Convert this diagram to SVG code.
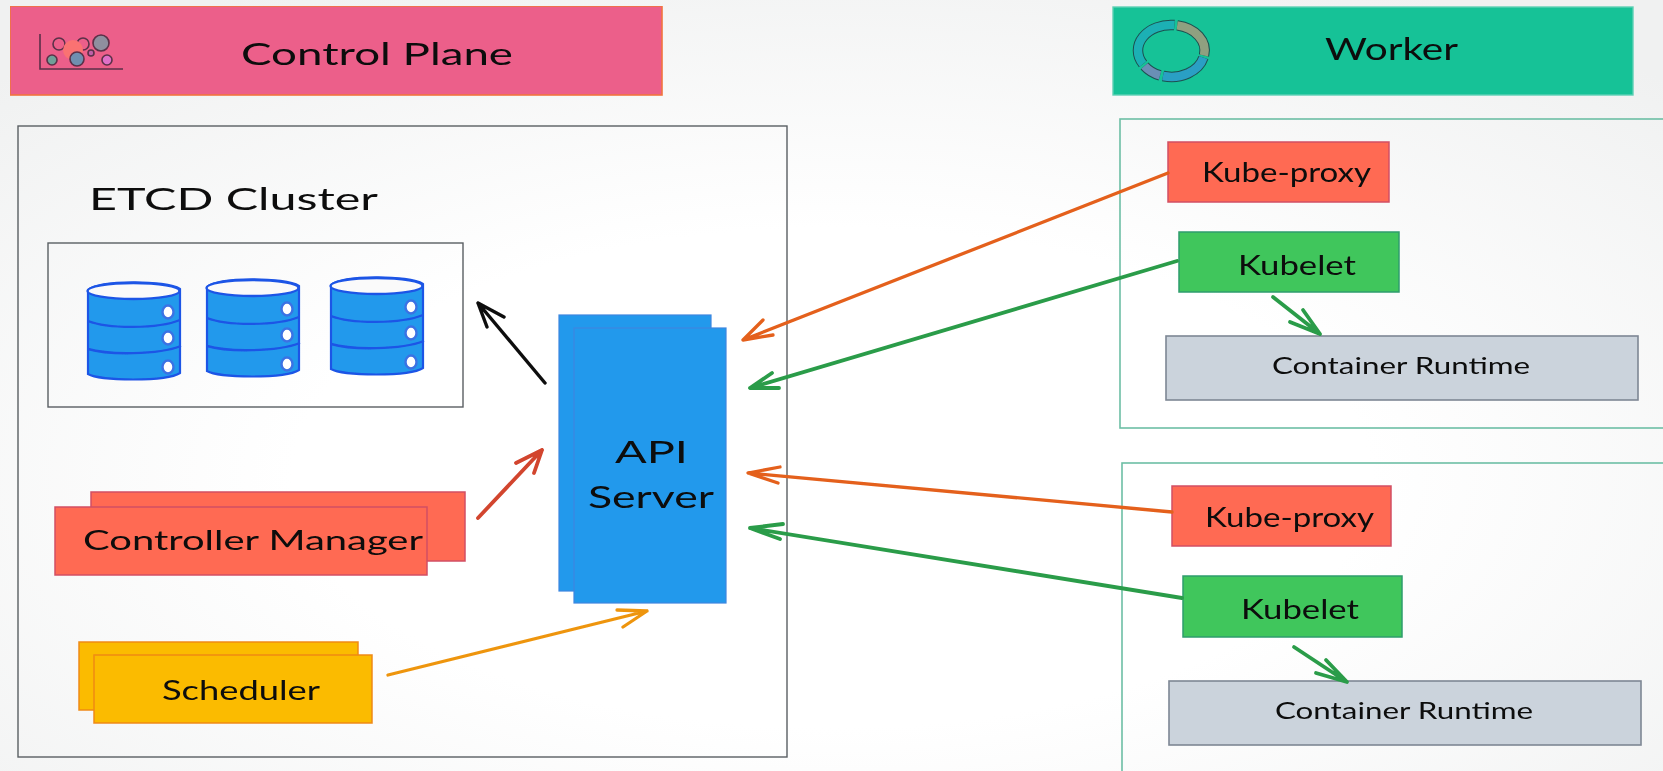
<svg xmlns="http://www.w3.org/2000/svg" xmlns:xlink="http://www.w3.org/1999/xlink" width="1663" height="771" viewBox="0 0 1663 771">
<style>
text{font-family:"Lato","Open Sans","Liberation Sans",sans-serif;fill:#0b0b0b;font-size:26px}
.lg{font-size:31px}
.md{font-size:27px}
.sm{font-size:24px}
.frame{fill:none;stroke:#5a5f63;stroke-width:1.4}
.wframe{fill:none;stroke:#6dbfa5;stroke-width:1.6}
.red{fill:#ff6a52;stroke:#d24f63;stroke-width:1.5}
.grn{fill:#40c65c;stroke:#2f9d6c;stroke-width:1.5}
.gry{fill:#cbd3dc;stroke:#7e8794;stroke-width:1.6}
.blu{fill:#2299ec;stroke:#3d86e0;stroke-width:1.2}
.yel{fill:#fbbb02;stroke:#ef8a17;stroke-width:1.5}
.a{fill:none;stroke-width:3.3;stroke-linecap:round;stroke-linejoin:round}
.ao{stroke:#e4601b}
.ag{stroke:#2b9c48;stroke-width:3.8}
.ak{stroke:#0b0b0b;stroke-width:3.4}
.ar{stroke:#d2452f;stroke-width:3.8}
.ay{stroke:#ee950f}
.cb{fill:#2299ec;stroke:#1f55e6;stroke-width:2.2}
.cl{fill:none;stroke:#1f55e6;stroke-width:2.4}
.ct{fill:#fafafa;stroke:#1f55e6;stroke-width:2.4}
.cd{fill:#fff;stroke:#3a72e4;stroke-width:2.4}
.bub{stroke:#5b3048;stroke-width:1.6}
</style>
<defs>
<radialGradient id="bg" cx="50%" cy="62%" r="72%">
<stop offset="0.45" stop-color="#ffffff"/>
<stop offset="1" stop-color="#f0f1f1"/>
</radialGradient>
<filter id="soft" x="0" y="0" width="100%" height="100%"><feGaussianBlur stdDeviation="0.5"/></filter>
<g id="cyl">
<path class="cb" d="M0 7V91C12 98 78 99 92 90V6C78 -3 12 -3 0 7Z"/>
<ellipse class="ct" cx="45.500" cy="8" rx="46" ry="8"/>
<path class="cl" d="M0 38C20 46 70 46 92 37M0 66C20 72 70 72 93 63"/>
<ellipse class="cd" cx="80" cy="29" rx="5.500" ry="6.500"/>
<ellipse class="cd" cx="80" cy="55" rx="5.500" ry="6.500"/>
<ellipse class="cd" cx="80" cy="84" rx="5.500" ry="6.500"/>
</g>
</defs>
<rect width="1663" height="771" fill="url(#bg)"/>
<g filter="url(#soft)">
<g id="control-plane-header">
<rect x="10" y="6" width="652" height="89" fill="#ec5f8a" stroke="#f2743f" stroke-width="1.6"/>
<path d="M40 34V69H123" fill="none" stroke="#5b3048" stroke-width="1.6"/>
<circle class="bub" cx="59" cy="44" r="6" fill="none"/>
<circle class="bub" cx="83" cy="44" r="6" fill="none"/>
<circle cx="73" cy="50" r="10" fill="#fa7272"/>
<circle class="bub" cx="101" cy="43" r="8" fill="#8f8f9f"/>
<circle class="bub" cx="77" cy="59" r="7" fill="#6f8fb0"/>
<circle class="bub" cx="91" cy="53" r="3" fill="#c060a8"/>
<circle class="bub" cx="52" cy="60" r="5" fill="#6f9f98"/>
<circle class="bub" cx="107" cy="60" r="5" fill="#e070c8"/>
<text class="lg" x="241" y="65" textLength="272" lengthAdjust="spacingAndGlyphs">Control Plane</text>
</g>
<g id="worker-header">
<rect x="1113" y="7" width="520" height="88" fill="#12c297" stroke="#5fd0b5" stroke-width="1.4"/>
<g fill="none" stroke-linecap="butt">
<path d="M1143 64A33 25.500 0 0 1 1174.400 25.100" stroke="#1f4f4f" stroke-width="10.500"/>
<path d="M1177.200 25.400A33 25.500 0 0 1 1204 55.500" stroke="#1f4f4f" stroke-width="10.500"/>
<path d="M1203.400 57.700A33 25.500 0 0 1 1163 76" stroke="#1f4f4f" stroke-width="10.500"/>
<path d="M1160 75.400A33 25.500 0 0 1 1144.500 66" stroke="#1f4f4f" stroke-width="10.500"/>
<path d="M1143 64A33 25.500 0 0 1 1174.400 25.100" stroke="#1fb0b4" stroke-width="8.500"/>
<path d="M1177.200 25.400A33 25.500 0 0 1 1204 55.500" stroke="#8fa080" stroke-width="8.500"/>
<path d="M1203.400 57.700A33 25.500 0 0 1 1163 76" stroke="#2a9fc4" stroke-width="8.500"/>
<path d="M1160 75.400A33 25.500 0 0 1 1144.500 66" stroke="#6a8fb5" stroke-width="8.500"/>
</g>
<text class="lg" x="1325" y="60" textLength="133" lengthAdjust="spacingAndGlyphs">Worker</text>
</g>
<g id="control-plane"><rect class="frame" x="18" y="126" width="769" height="631"/></g>
<g id="etcd-cluster">
<text class="lg" x="89" y="210" textLength="289" lengthAdjust="spacingAndGlyphs">ETCD Cluster</text>
<rect class="frame" x="48" y="243" width="415" height="164"/>
<use xlink:href="#cyl" href="#cyl" x="88" y="283"/>
<use xlink:href="#cyl" href="#cyl" x="207" y="280"/>
<use xlink:href="#cyl" href="#cyl" x="331" y="278"/>
</g>
<g id="api-server">
<rect class="blu" x="559" y="315" width="152" height="276"/>
<rect class="blu" x="574" y="328" width="152" height="275"/>
<text class="lg" x="615" y="463" textLength="73" lengthAdjust="spacingAndGlyphs">API</text>
<text class="lg" x="588" y="508" textLength="126" lengthAdjust="spacingAndGlyphs">Server</text>
</g>
<g id="controller-manager">
<rect class="red" x="91" y="492" width="374" height="69"/>
<rect class="red" x="55" y="507" width="372" height="68"/>
<text class="md" x="83" y="550" textLength="340" lengthAdjust="spacingAndGlyphs">Controller Manager</text>
</g>
<g id="scheduler">
<rect class="yel" x="79" y="642" width="279" height="68"/>
<rect class="yel" x="94" y="655" width="278" height="68"/>
<text class="md" x="162" y="700" textLength="158" lengthAdjust="spacingAndGlyphs">Scheduler</text>
</g>
<g id="worker-1">
<rect class="wframe" x="1120" y="119" width="560" height="309"/>
</g>
<g id="kube-proxy-1"><rect class="red" x="1168" y="142" width="221" height="60"/>
<text class="md" x="1202" y="182" textLength="169" lengthAdjust="spacingAndGlyphs">Kube-proxy</text></g>
<g id="kubelet-1"><rect class="grn" x="1179" y="232" width="220" height="60"/>
<text class="md" x="1238" y="275" textLength="118" lengthAdjust="spacingAndGlyphs">Kubelet</text></g>
<g id="container-runtime-1"><rect class="gry" x="1166" y="336" width="472" height="64"/>
<text class="sm" x="1272" y="374" textLength="258" lengthAdjust="spacingAndGlyphs">Container Runtime</text></g>
<g id="worker-2">
<rect class="wframe" x="1122" y="463" width="560" height="340"/>
</g>
<g id="kube-proxy-2"><rect class="red" x="1172" y="486" width="219" height="60"/>
<text class="md" x="1205" y="527" textLength="169" lengthAdjust="spacingAndGlyphs">Kube-proxy</text></g>
<g id="kubelet-2"><rect class="grn" x="1183" y="576" width="219" height="61"/>
<text class="md" x="1241" y="619" textLength="118" lengthAdjust="spacingAndGlyphs">Kubelet</text></g>
<g id="container-runtime-2"><rect class="gry" x="1169" y="681" width="472" height="64"/>
<text class="sm" x="1275" y="719" textLength="258" lengthAdjust="spacingAndGlyphs">Container Runtime</text></g>
<g id="connectors">
<path class="a ak" d="M545 383L478 303M504 317L478 303L487 327"/>
<path class="a ar" d="M478 518L542 450M516 463L542 450L534 473"/>
<path class="a ay" d="M388 675L647 611M617 610L647 611L623 627"/>
<path class="a ao" d="M1168 173L743 340M763 320L743 340L773 335"/>
<path class="a ag" d="M1177 261L750 388M772 373L750 388L779 388"/>
<path class="a ao" d="M1172 512L748 473M780 467L748 473L778 483"/>
<path class="a ag" d="M1182 598L750 528M783 524L750 528L780 539"/>
<path class="a ag" d="M1273 297L1320 334M1303 310L1320 334L1290 322"/>
<path class="a ag" d="M1294 647L1347 682M1326 660L1347 682L1316 673"/>
</g>
</g>
</svg>
